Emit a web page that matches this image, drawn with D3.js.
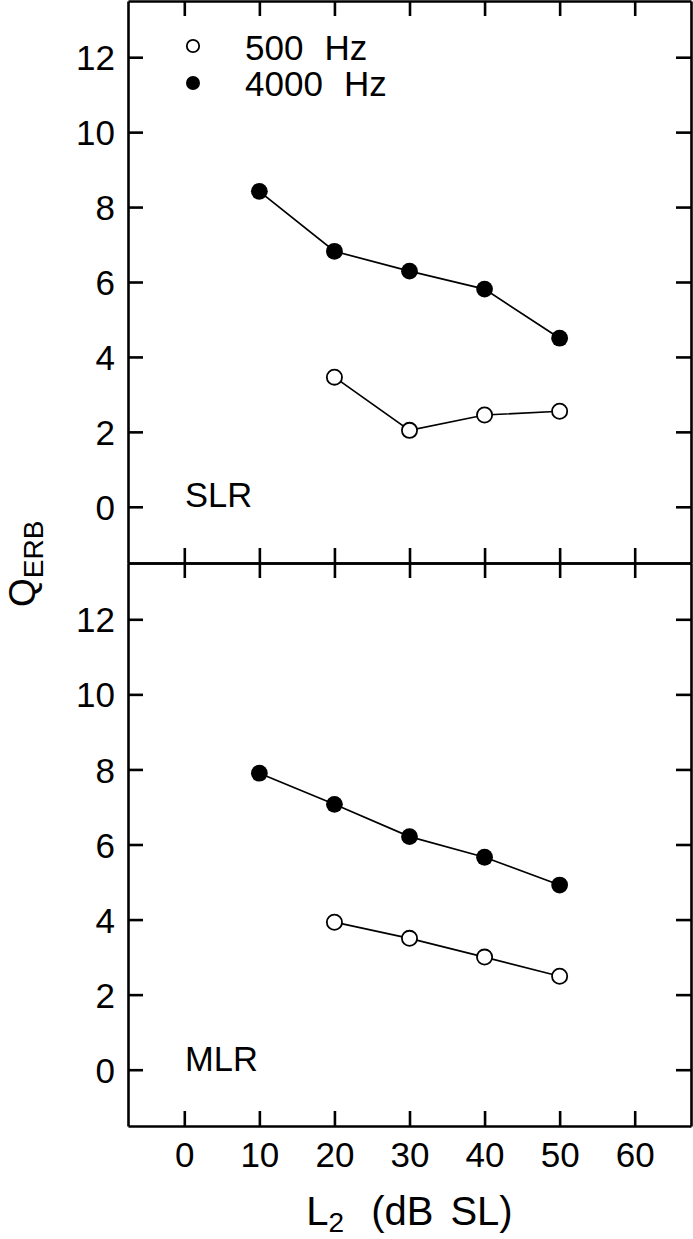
<!DOCTYPE html>
<html>
<head>
<meta charset="utf-8">
<script src="https://cdn.jsdelivr.net/npm/d3@7"></script>
<style>
  html, body { margin: 0; padding: 0; background: #fff; }
  svg { display: block; }
  text { font-family: "Liberation Sans", Arial, sans-serif; fill: #000; }
</style>
</head>
<body>
<script>
// ---- data ----
const levels = [10, 20, 30, 40, 50];            // L2 (dB SL)
const levels500 = [20, 30, 40, 50];
const slr4000 = [8.42, 6.82, 6.29, 5.81, 4.50];
const slr500  = [3.46, 2.04, 2.45, 2.55];
const mlr4000 = [7.90, 7.07, 6.21, 5.66, 4.92];
const mlr500  = [3.93, 3.50, 3.00, 2.49];
const xTicks = [0, 10, 20, 30, 40, 50, 60];
const yTicks = [0, 2, 4, 6, 8, 10, 12];
const panelNames = ["SLR", "MLR"];
const legendNums = ["500", "4000"];
const legendUnit = "Hz";

const W = 693, H = 1239;
const left = 128, right = 691;
const panelTops = [1, 563], panelBottoms = [563, 1126];

const svg = d3.select("body").append("svg").attr("width", W).attr("height", H);

const x = d3.scaleLinear().domain([-7.5, 67.5]).range([left, right]);

const panels = [
  {name: panelNames[0], s4000: slr4000, s500: slr500},
  {name: panelNames[1], s4000: mlr4000, s500: mlr500}
];

const tickLen = 15;
const axisW = 2.6;

panels.forEach((p, i) => {
  const top = panelTops[i], bottom = panelBottoms[i];
  const y = d3.scaleLinear().domain([-1.5, 13.5]).range([bottom, top]);
  const g = svg.append("g");

  const ax = g.append("g").attr("transform", `translate(${left},0)`)
    .call(d3.axisLeft(y).tickValues(yTicks).tickSizeInner(-tickLen).tickSizeOuter(0).tickPadding(13));
  ax.selectAll("text").style("font-size", "35px").attr("dy", "0.36em");
  g.append("g").attr("transform", `translate(${right},0)`)
    .call(d3.axisRight(y).tickValues(yTicks).tickSizeInner(-tickLen).tickSizeOuter(0).tickFormat(""));
  g.append("g").attr("transform", `translate(0,${top})`)
    .call(d3.axisTop(x).tickValues(xTicks).tickSizeInner(-tickLen).tickSizeOuter(0).tickFormat(""));
  const bx = g.append("g").attr("transform", `translate(0,${bottom})`)
    .call(d3.axisBottom(x).tickValues(xTicks).tickSizeInner(-tickLen).tickSizeOuter(0)
      .tickFormat(i === 1 ? d3.format("d") : ""));
  bx.selectAll("text").style("font-size", "35px").attr("y", 41).attr("dy", 0);

  g.selectAll(".domain").attr("stroke-width", axisW).attr("stroke", "#000");
  g.selectAll(".tick line").attr("stroke-width", axisW).attr("stroke", "#000");

  const line = d3.line().x(d => x(d[0])).y(d => y(d[1]));
  const d4000 = levels.map((l, k) => [l, p.s4000[k]]);
  const d500 = levels500.map((l, k) => [l, p.s500[k]]);
  [d4000, d500].forEach(d => {
    g.append("path").datum(d).attr("d", line)
      .attr("fill", "none").attr("stroke", "#000").attr("stroke-width", 1.7);
  });
  g.selectAll(".m500").data(d500).enter().append("circle")
    .attr("cx", d => x(d[0])).attr("cy", d => y(d[1])).attr("r", 7.6)
    .attr("fill", "#fff").attr("stroke", "#000").attr("stroke-width", 1.8);
  g.selectAll(".m4000").data(d4000).enter().append("circle")
    .attr("cx", d => x(d[0])).attr("cy", d => y(d[1])).attr("r", 8.4)
    .attr("fill", "#000");

  g.append("text").attr("x", 185).attr("y", i === 0 ? 507 : 1071)
    .style("font-size", "34.5px").text(p.name);
});

// legend
const lg = svg.append("g");
lg.append("circle").attr("cx", 193).attr("cy", 46).attr("r", 6.2)
  .attr("fill", "#fff").attr("stroke", "#000").attr("stroke-width", 1.8);
lg.append("circle").attr("cx", 193).attr("cy", 83).attr("r", 7)
  .attr("fill", "#000");
[60, 96].forEach((by, k) => {
  const t = lg.append("text").attr("x", 245).attr("y", by).style("font-size", "35px");
  t.append("tspan").text(legendNums[k]);
  t.append("tspan").attr("dx", 21).text(legendUnit);
});

// y label
const yl = svg.append("text").attr("transform", "translate(35,607) rotate(-90)")
  .attr("text-anchor", "start");
yl.append("tspan").style("font-size", "37px").text("Q");
yl.append("tspan").style("font-size", "28px").attr("dy", 8).text("ERB");

// x label
const xl = svg.append("text").attr("x", (left + right) / 2).attr("y", 1225)
  .attr("text-anchor", "middle").style("font-size", "40px");
xl.append("tspan").text("L");
xl.append("tspan").style("font-size", "28px").attr("dy", 7).text("2");
xl.append("tspan").attr("dx", 27).attr("dy", -7).text("(dB");
xl.append("tspan").attr("dx", 17).text("SL)");
</script>
</body>
</html>
